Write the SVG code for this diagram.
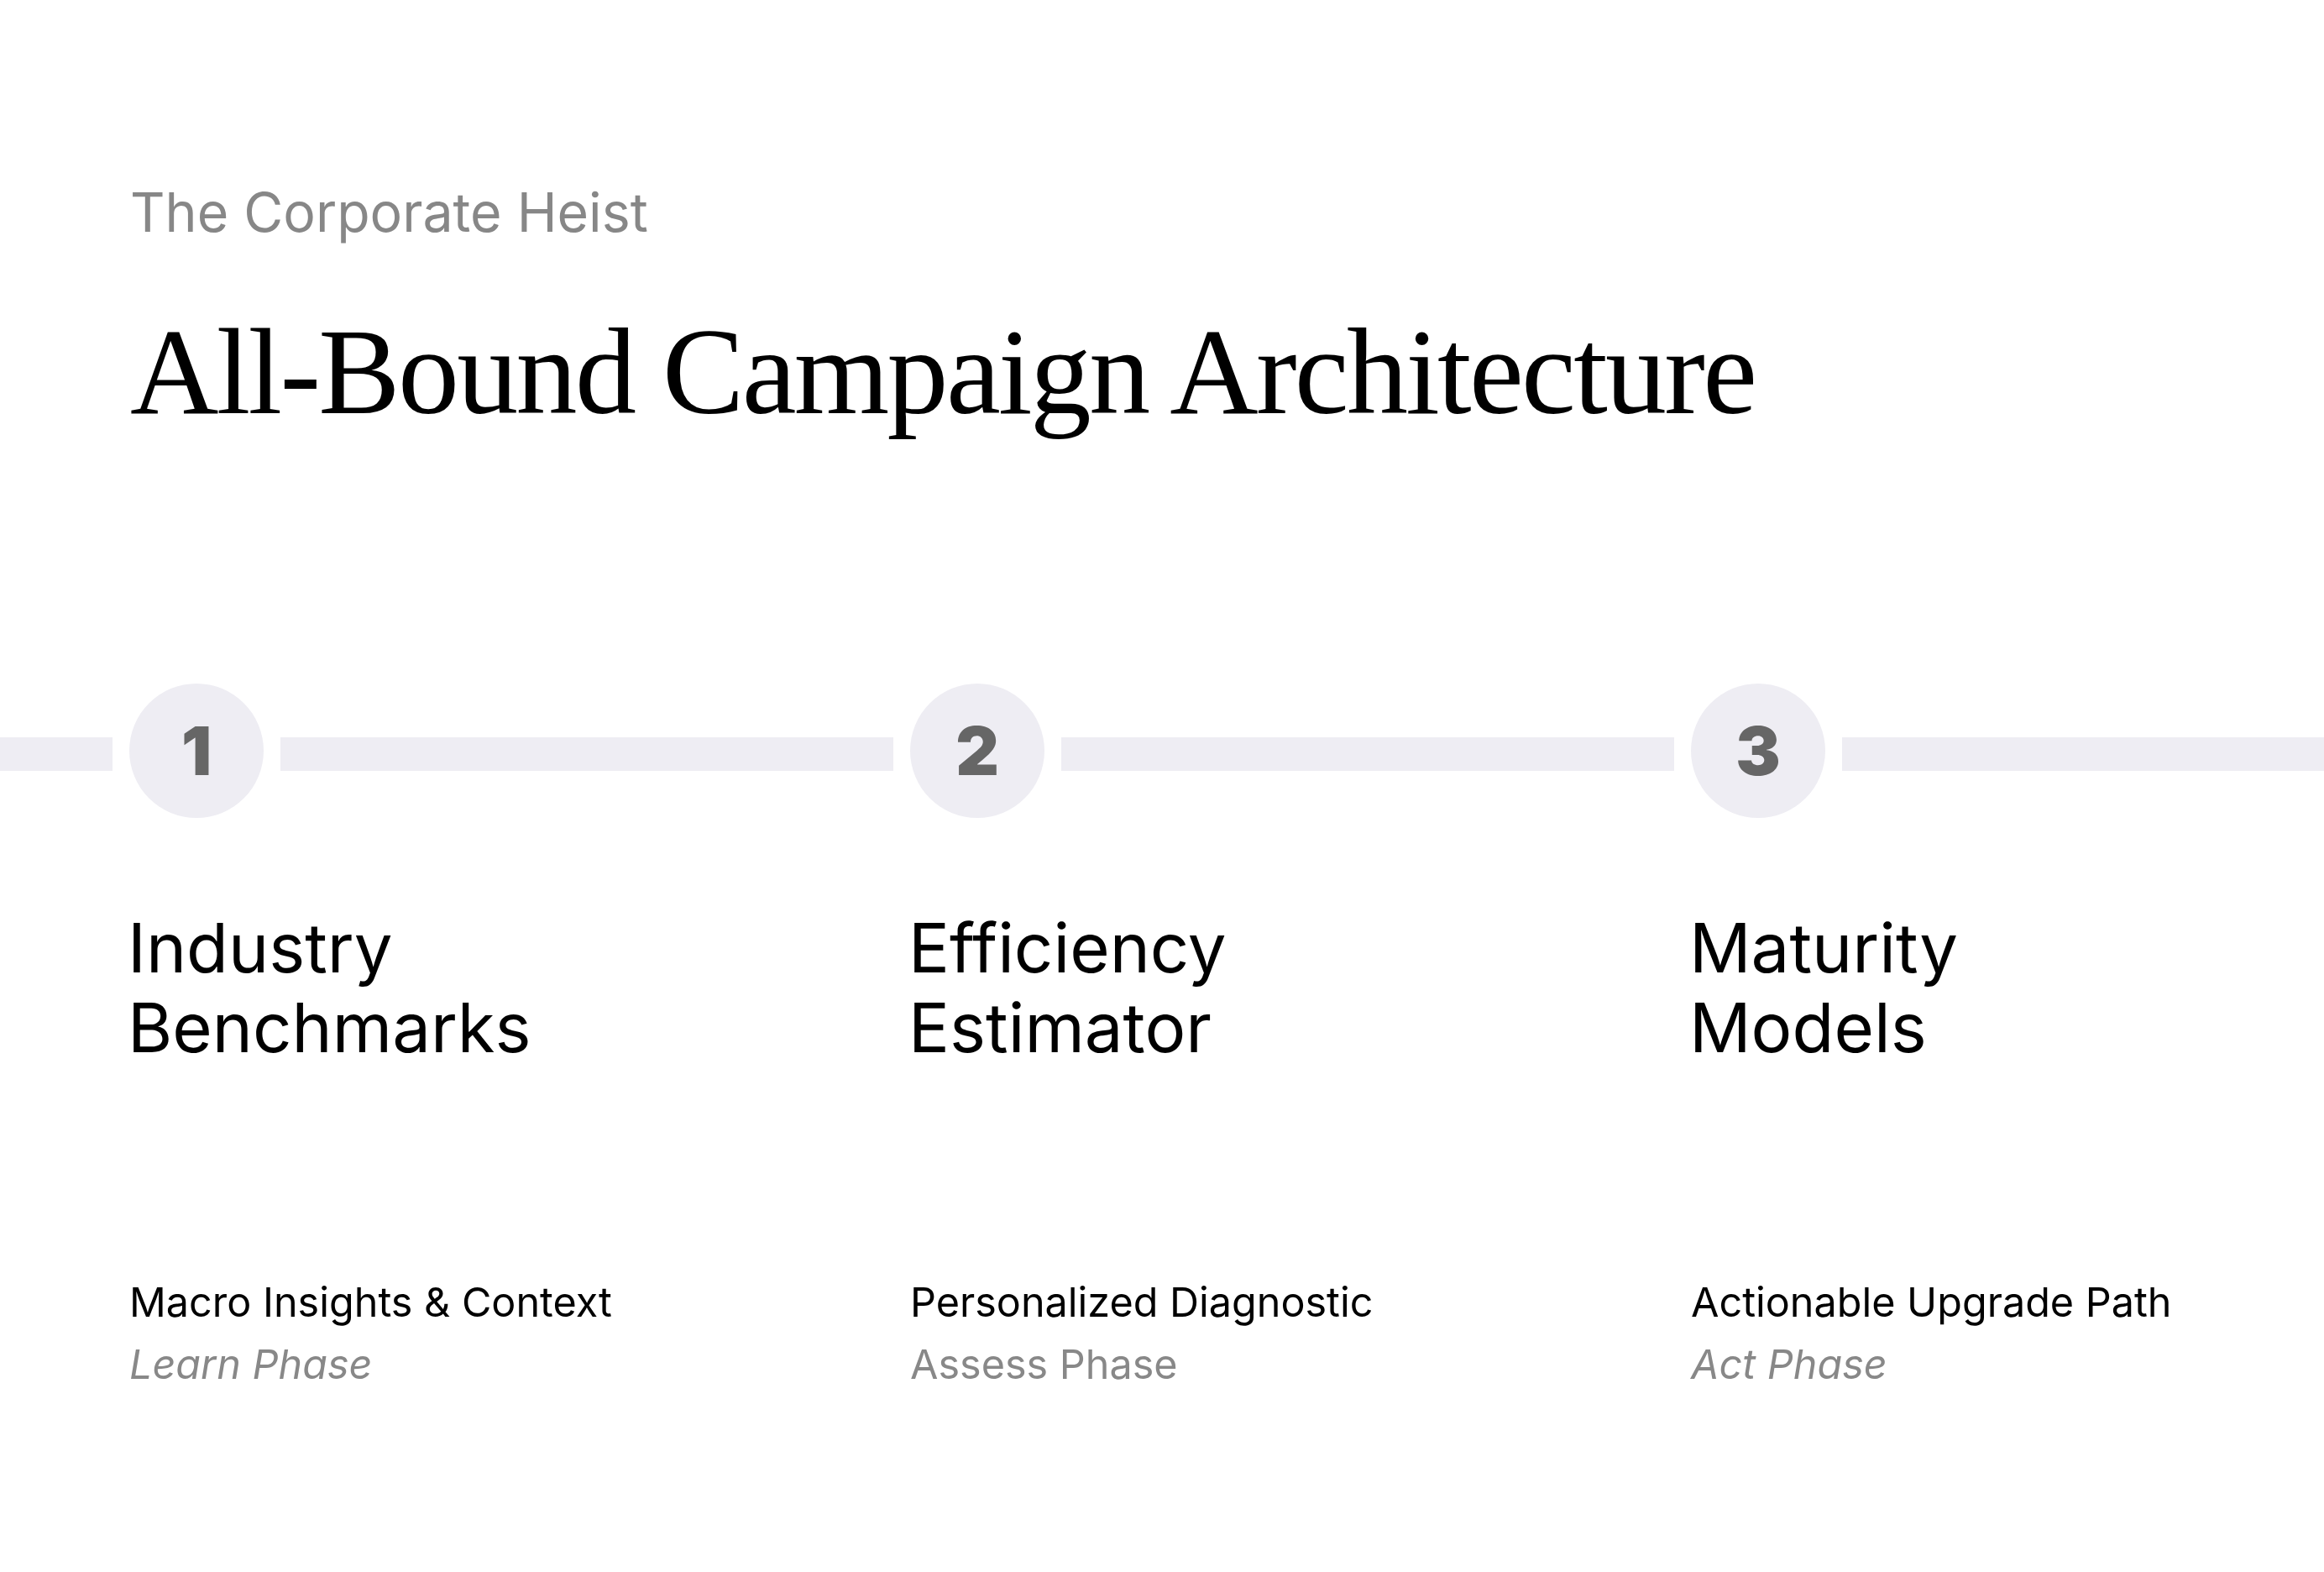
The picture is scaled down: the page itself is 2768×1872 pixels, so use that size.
<svg xmlns="http://www.w3.org/2000/svg" width="2768" height="1872" viewBox="0 0 2768 1872">
<style>
.sub{font-family:Inter,"Liberation Sans",sans-serif;font-size:64.4px;fill:#878787}
.title{font-family:"Liberation Serif",serif;font-size:146px;fill:#000}
.track{fill:#eeedf3}
.dot{fill:#eeedf3}
.num{font-family:Inter,"Liberation Sans",sans-serif;font-size:80px;font-weight:900;fill:#666666;text-anchor:middle}
.head{font-family:Inter,"Liberation Sans",sans-serif;font-size:81.5px;fill:#000}
.desc{font-family:Inter,"Liberation Sans",sans-serif;font-size:48.5px;fill:#000}
.phase{font-family:Inter,"Liberation Sans",sans-serif;font-size:48.5px;fill:#888888}
.it{font-style:italic}
</style>
<rect width="2768" height="1872" fill="#ffffff"/>
<text class="sub" x="155" y="276">The Corporate Heist</text>
<text class="title" x="155" y="492" textLength="1938" lengthAdjust="spacing">All-Bound Campaign Architecture</text>
<g id="connectors">
<rect class="track" x="0" y="878" width="134" height="40"/>
<rect class="track" x="334" y="878" width="730" height="40"/>
<rect class="track" x="1264" y="878" width="730" height="40"/>
<rect class="track" x="2194" y="878" width="574" height="40"/>
</g>
<g id="node-1">
<circle class="dot" cx="234" cy="894" r="80"/>
<text class="num" x="234" y="923">1</text>
<text class="head" x="152" y="1158">Industry</text>
<text class="head" x="152" y="1253">Benchmarks</text>
<text class="desc" x="154" y="1568">Macro Insights &amp; Context</text>
<text class="phase it" x="154" y="1642">Learn Phase</text>
</g>
<g id="node-2">
<circle class="dot" cx="1164" cy="894" r="80"/>
<text class="num" x="1164" y="923">2</text>
<text class="head" x="1082" y="1158">Efficiency</text>
<text class="head" x="1082" y="1253">Estimator</text>
<text class="desc" x="1084" y="1568">Personalized Diagnostic</text>
<text class="phase" x="1084" y="1642">Assess Phase</text>
</g>
<g id="node-3">
<circle class="dot" cx="2094" cy="894" r="80"/>
<text class="num" x="2094" y="923">3</text>
<text class="head" x="2012" y="1158">Maturity</text>
<text class="head" x="2012" y="1253">Models</text>
<text class="desc" x="2014" y="1568">Actionable Upgrade Path</text>
<text class="phase it" x="2014" y="1642">Act Phase</text>
</g>
</svg>
